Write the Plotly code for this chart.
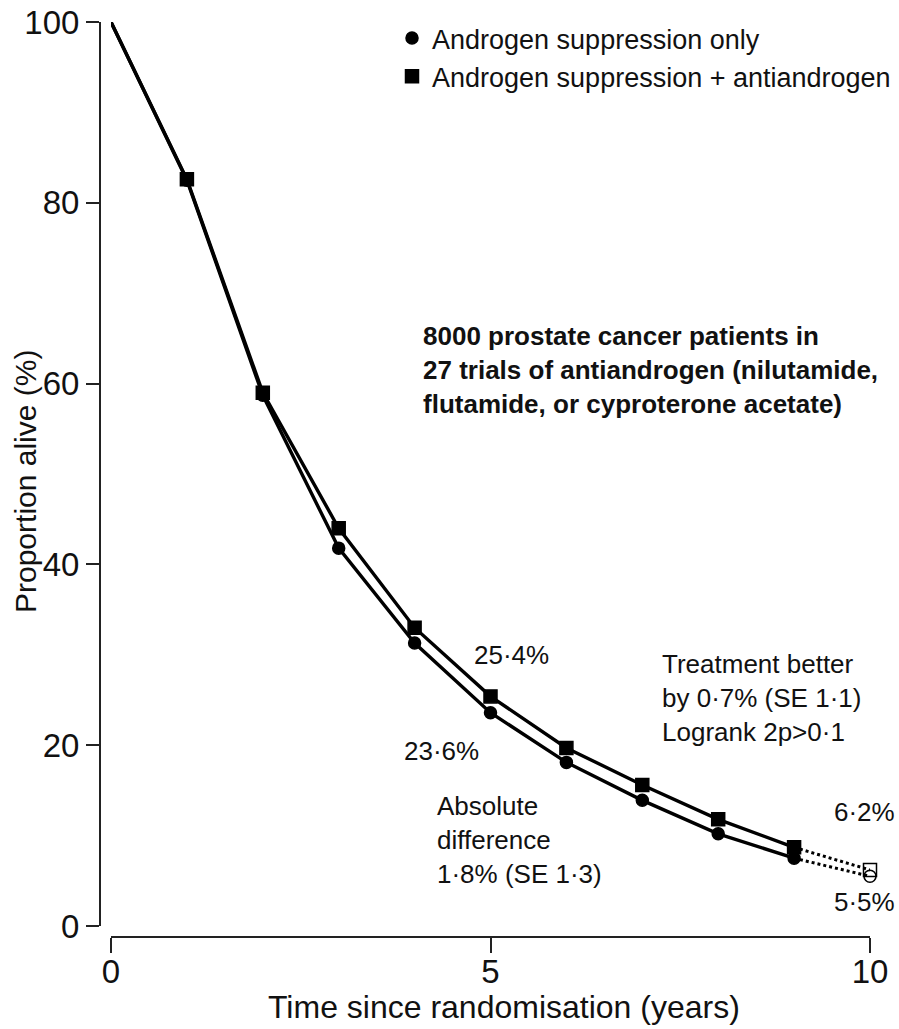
import plotly.graph_objects as go

# ---- data ----
years = [0, 1, 2, 3, 4, 5, 6, 7, 8, 9, 10]
suppression_only = [100, 82.5, 58.7, 41.8, 31.3, 23.6, 18.1, 13.9, 10.2, 7.5, 5.5]
suppression_plus_anti = [100, 82.6, 59.0, 44.0, 33.0, 25.4, 19.7, 15.6, 11.8, 8.7, 6.2]
series_names = ["Androgen suppression only", "Androgen suppression + antiandrogen"]
x_ticks = [0, 5, 10]
y_ticks = [0, 20, 40, 60, 80, 100]

W, H = 899, 1029
ML, MR, MT, MB = 100, 29, 22, 92
PW, PH = W - ML - MR, H - MT - MB
FONT = "Liberation Sans, Arial, sans-serif"
INK = "#111111"


def paper(xp, yp):
    return (xp - ML) / PW, (H - MB - yp) / PH


fig = go.Figure()

series = [
    (suppression_only, "circle", "circle-open", 12, series_names[0]),
    (suppression_plus_anti, "square", "square-open", 13, series_names[1]),
]
last = len(years) - 1
for vals, sym, sym_open, size, name in series:
    # solid part up to year 9
    fig.add_trace(go.Scatter(
        x=years[:last], y=vals[:last], mode="lines",
        line=dict(color="black", width=3.4), showlegend=False,
        hoverinfo="skip", cliponaxis=False))
    # dotted extension to year 10
    fig.add_trace(go.Scatter(
        x=years[last - 1:], y=vals[last - 1:], mode="lines",
        line=dict(color="black", width=3, dash="dot"), showlegend=False,
        hoverinfo="skip", cliponaxis=False))
    # markers (years 1..10); last one open
    syms = [sym] * (last - 1) + [sym_open]
    fig.add_trace(go.Scatter(
        x=years[1:], y=vals[1:], mode="markers", name=name,
        marker=dict(symbol=syms, size=size, color="black",
                    line=dict(color="black", width=1.5)),
        cliponaxis=False))

annotations = []


def add_text(text, xp, yp, xanchor="left", yanchor="middle", size=26, bold=False, angle=0):
    ax, ay = paper(xp, yp)
    annotations.append(dict(
        text=f"<b>{text}</b>" if bold else text, x=ax, y=ay, xref="paper", yref="paper",
        xanchor=xanchor, yanchor=yanchor, showarrow=False, align="left",
        textangle=angle, font=dict(family=FONT, size=size, color=INK)))


add_text("8000 prostate cancer patients in<br>27 trials of antiandrogen (nilutamide,<br>"
         "flutamide, or cyproterone acetate)", 421, 370, bold=True)
add_text("Treatment better<br>by 0·7% (SE 1·1)<br>Logrank 2p>0·1", 660, 698)
add_text("Absolute<br>difference<br>1·8% (SE 1·3)", 435, 840)
add_text("25·4%", 511, 655, xanchor="center")
add_text("23·6%", 441, 751, xanchor="center")
add_text("6·2%", 897, 812, xanchor="right")
add_text("5·5%", 897, 902, xanchor="right")
add_text("Proportion alive (%)", 25, 482, xanchor="center", size=30, angle=-90)
add_text("Time since randomisation (years)", 504, 1007, xanchor="center", size=32)

lx, ly = paper(392, 14)
fig.update_layout(
    width=W, height=H,
    margin=dict(l=ML, r=MR, t=MT, b=MB, autoexpand=False),
    paper_bgcolor="white", plot_bgcolor="white",
    showlegend=True,
    legend=dict(x=lx, y=ly, xanchor="left", yanchor="top",
                font=dict(family=FONT, size=27, color=INK),
                bgcolor="rgba(0,0,0,0)", itemwidth=30),
    annotations=annotations,
    xaxis=dict(range=[0, 10], domain=[11 / PW, 1], anchor="free", position=0,
               showgrid=False, zeroline=False, showline=True, linecolor="#222",
               linewidth=2, ticks="outside", ticklen=15, tickwidth=2, tickcolor="#222",
               tickvals=x_ticks, ticktext=[str(v) for v in x_ticks],
               ticklabelstandoff=-10,
               tickfont=dict(family=FONT, size=33, color=INK)),
    yaxis=dict(range=[0, 100], domain=[11 / PH, 1], anchor="free", position=0,
               showgrid=False, zeroline=False, showline=True, linecolor="#222",
               linewidth=2, ticks="outside", ticklen=13, tickwidth=2, tickcolor="#222",
               tickvals=y_ticks, ticktext=[str(v) for v in y_ticks],
               tickfont=dict(family=FONT, size=33, color=INK)),
)

fig.write_html("out.html")
